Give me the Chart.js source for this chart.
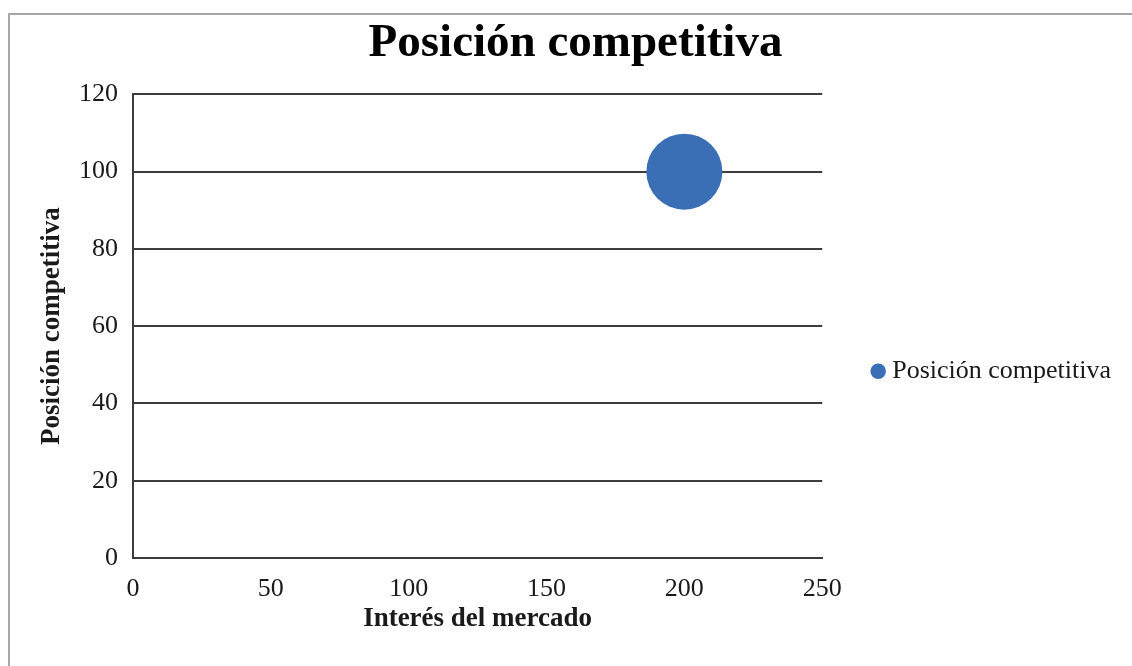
<!DOCTYPE html>
<html lang="es">
<head>
<meta charset="utf-8">
<title>Posición competitiva</title>
<script src="https://cdn.jsdelivr.net/npm/chart.js@4/dist/chart.umd.min.js"></script>
<style>
    html, body {
        margin: 0;
        padding: 0;
        background: #ffffff;
        overflow: hidden;
    }
    #frame {
        position: absolute;
        left: 8px;
        top: 13px;
        width: 1200px;
        height: 700px;
        border-left: 2px solid #a6a6a6;
        border-top: 2px solid #a6a6a6;
    }
    #bubbleChart {
        position: absolute;
        left: 0;
        top: 0;
    }
</style>
</head>
<body>
<div id="frame"></div>
<canvas id="bubbleChart" width="1132" height="666"></canvas>
<script>
const seriesName = "Posición competitiva";
const marketInterest = [200];        // x: Interés del mercado
const competitivePosition = [100];   // y: Posición competitiva
const bubbleSize = [38];
const xTicks = [0, 50, 100, 150, 200, 250];
const yTicks = [0, 20, 40, 60, 80, 100, 120];

const serif = "'Liberation Serif', 'Times New Roman', serif";
const bubbleBlue = "#3b6fb5";
const lineColor = "#3c3c3c";

document.addEventListener("DOMContentLoaded", () => {
    renderBubbleChart();
});

function renderBubbleChart() {
    const ctx = document.getElementById("bubbleChart").getContext("2d");

    const points = marketInterest.map((x, i) => ({
        x: x,
        y: competitivePosition[i],
        r: bubbleSize[i]
    }));

    new Chart(ctx, {
        type: "bubble",
        data: {
            datasets: [
                {
                    label: seriesName,
                    data: points,
                    backgroundColor: bubbleBlue,
                    borderColor: bubbleBlue,
                    borderWidth: 0,
                    hoverRadius: 0
                }
            ]
        },
        options: {
            responsive: false,
            animation: false,
            devicePixelRatio: 1,
            layout: {
                padding: { left: 30, right: 11, top: 0, bottom: 0 }
            },
            plugins: {
                tooltip: { enabled: false },
                title: {
                    display: true,
                    text: seriesName,
                    color: "#000000",
                    font: { family: serif, size: 47, weight: "bold" },
                    padding: { top: 16, bottom: 22 }
                },
                legend: {
                    display: true,
                    position: "right",
                    fullSize: false,
                    maxWidth: 400,   // let the legend be wider than the default quarter share
                    title: {
                        // empty title only pushes the entry down
                        display: true,
                        text: "",
                        font: { size: 10 },
                        padding: { top: 0, bottom: 78 }
                    },
                    labels: {
                        usePointStyle: true,
                        pointStyle: "circle",
                        boxWidth: 2,
                        boxHeight: 11,
                        padding: 55,
                        color: "#1a1a1a",
                        font: { family: serif, size: 26 }
                    }
                }
            },
            scales: {
                x: {
                    type: "linear",
                    position: "bottom",
                    min: xTicks[0],
                    max: xTicks[xTicks.length - 1],
                    afterBuildTicks: scale => {
                        scale.ticks = xTicks.map(v => ({ value: v }));
                    },
                    afterFit: scale => {
                        scale.height = 108;
                    },
                    grid: { display: false, drawTicks: false },
                    border: { display: true, color: lineColor, width: 2 },
                    ticks: {
                        padding: 16,
                        color: "#1a1a1a",
                        font: { family: serif, size: 26 }
                    },
                    title: {
                        display: true,
                        text: "Interés del mercado",
                        color: "#1a1a1a",
                        font: { family: serif, size: 27, weight: "bold" },
                        padding: { top: 0, bottom: 31 }
                    }
                },
                y: {
                    type: "linear",
                    position: "left",
                    min: yTicks[0],
                    max: yTicks[yTicks.length - 1],
                    afterBuildTicks: scale => {
                        scale.ticks = yTicks.map(v => ({ value: v }));
                    },
                    afterFit: scale => {
                        scale.width = 103;
                    },
                    grid: {
                        display: true,
                        drawTicks: false,
                        color: lineColor,
                        lineWidth: 2
                    },
                    border: { display: true, color: lineColor, width: 2 },
                    ticks: {
                        padding: 15,
                        color: "#1a1a1a",
                        font: { family: serif, size: 26 }
                    },
                    title: {
                        display: true,
                        text: "Posición competitiva",
                        color: "#1a1a1a",
                        font: { family: serif, size: 27, weight: "bold" },
                        padding: { top: 6, bottom: 0 }
                    }
                }
            }
        }
    });
}
</script>
</body>
</html>
